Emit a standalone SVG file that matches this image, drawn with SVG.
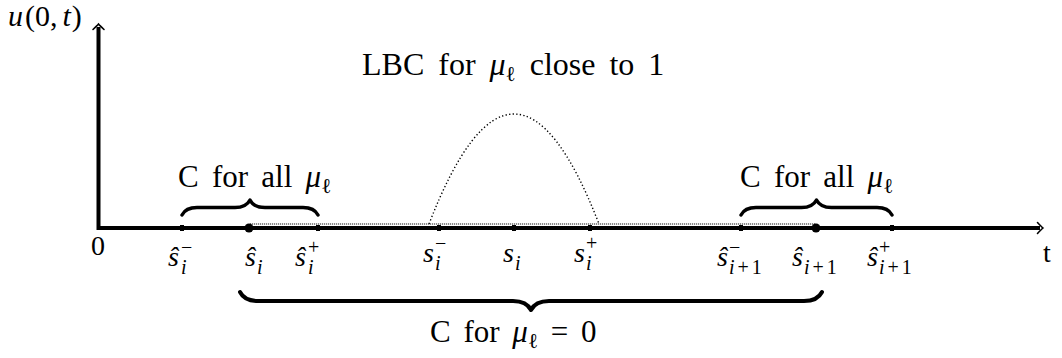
<svg xmlns="http://www.w3.org/2000/svg" width="1062" height="358" viewBox="0 0 1062 358">
  <style>
    text { fill: #000; }
    .t { font-size: 31px; }
    .m { font-size: 28px; font-style: italic; }
    .it { font-style: italic; }
    .up { font-style: normal; }
    .sc { font-size: 20px; }
    .sub { font-size: 21px; }
    .ax { fill: none; stroke: #000; stroke-width: 4; stroke-linejoin: miter; }
    .brace { fill: none; stroke: #000; stroke-width: 3.4; stroke-linecap: round; stroke-linejoin: round; }
    .tick { fill: #000; }
    .dotline { fill: none; stroke: #666; stroke-width: 1.6; stroke-dasharray: 1.2 0.8; }
    .curve { fill: none; stroke: #000; stroke-width: 1.4; stroke-dasharray: 1.3 2.3; }
  </style>
  <defs>
    <marker id="arr" markerUnits="userSpaceOnUse" markerWidth="14" markerHeight="14" refX="-3" refY="0" orient="auto-start-reverse" overflow="visible">
      <path d="M-5.5,-5.5 Q-1.5,-1.3 0,0 Q-1.5,1.3 -5.5,5.5" fill="none" stroke="#000" stroke-width="1.6" stroke-linecap="round"/>
    </marker>
  </defs>

  <g id="axes">
    <path class="ax" d="M98.5,27 V228 H1040" marker-start="url(#arr)" marker-end="url(#arr)"/>
  </g>

  <g id="curves">
    <line class="dotline" x1="250" y1="224" x2="816" y2="224"/>
    <path class="curve" d="M429,224 Q514,4 599,224"/>
  </g>

  <g id="ticks">
    <rect class="tick" x="180" y="225" width="4" height="6"/>
    <circle class="tick" cx="249" cy="228" r="4.5"/>
    <rect class="tick" x="316" y="225" width="4" height="6"/>
    <rect class="tick" x="437" y="225" width="4" height="6"/>
    <rect class="tick" x="512" y="225" width="4" height="6"/>
    <rect class="tick" x="588" y="225" width="4" height="6"/>
    <rect class="tick" x="739" y="225" width="4" height="6"/>
    <circle class="tick" cx="816" cy="228" r="4.5"/>
    <rect class="tick" x="890" y="225" width="4" height="6"/>
  </g>

  <g id="braces">
    <path id="brace-left" class="brace" d="M182,215 C184.25,210.5 189.5,207.5 197,207.5 L235,207.5 C242.5,207.5 247.75,204.5 250,200 C252.25,204.5 257.5,207.5 265,207.5 L303,207.5 C310.5,207.5 315.75,210.5 318,215"/>
    <path id="brace-right" class="brace" d="M741,215 C743.25,210.5 748.5,207.5 756,207.5 L801.5,207.5 C809,207.5 814.25,204.5 816.5,200 C818.75,204.5 824,207.5 831.5,207.5 L877,207.5 C884.5,207.5 889.75,210.5 892,215"/>
    <path id="brace-bottom" class="brace" style="stroke-width:4" d="M240,292 C242.7,297.4 249,301 258,301 L513,301 C522,301 528.3,304.6 531,310 C533.7,304.6 540,301 549,301 L804,301 C813,301 819.3,297.4 822,292"/>
  </g>

  <g id="axis-labels">
    <text id="ylabel" x="8" y="26" style="font-family:'Liberation Serif', serif; font-size:30px"><tspan class="it">u</tspan><tspan dx="2">(0,</tspan><tspan class="it" dx="5">t</tspan><tspan dx="1">)</tspan></text>
    <text id="origin" x="98" y="255" text-anchor="middle" style="font-family:'Liberation Serif', serif; font-size:28px">0</text>
    <text id="xlabel" x="1043" y="262" style="font-family:'Liberation Serif', serif; font-size:28px">t</text>
  </g>

  <g id="point-labels">
    <text id="lab-shat-i-minus" class="m" style="font-family:'Liberation Serif', serif"><tspan x="168" y="266">ŝ</tspan><tspan class="sc" x="181" y="274">i</tspan><tspan class="sc up" x="181" y="254">−</tspan></text>
    <text id="lab-shat-i" class="m" style="font-family:'Liberation Serif', serif"><tspan x="245" y="266">ŝ</tspan><tspan class="sc" x="257" y="274">i</tspan></text>
    <text id="lab-shat-i-plus" class="m" style="font-family:'Liberation Serif', serif"><tspan x="295" y="266">ŝ</tspan><tspan class="sc" x="308" y="274">i</tspan><tspan class="sc up" x="308" y="254">+</tspan></text>
    <text id="lab-s-i-minus" class="m" style="font-family:'Liberation Serif', serif"><tspan x="423" y="262">s</tspan><tspan class="sc" x="435" y="270">i</tspan><tspan class="sc up" x="435" y="250">−</tspan></text>
    <text id="lab-s-i" class="m" style="font-family:'Liberation Serif', serif"><tspan x="503" y="262">s</tspan><tspan class="sc" x="515" y="270">i</tspan></text>
    <text id="lab-s-i-plus" class="m" style="font-family:'Liberation Serif', serif"><tspan x="574" y="262">s</tspan><tspan class="sc" x="586" y="270">i</tspan><tspan class="sc up" x="586" y="250">+</tspan></text>
    <text id="lab-shat-i1-minus" class="m" style="font-family:'Liberation Serif', serif"><tspan x="717" y="266">ŝ</tspan><tspan class="sc" x="729" y="274">i</tspan><tspan class="sc up" dx="3">+</tspan><tspan class="sc up" dx="3">1</tspan><tspan class="sc up" x="729" y="254">−</tspan></text>
    <text id="lab-shat-i1" class="m" style="font-family:'Liberation Serif', serif"><tspan x="792" y="266">ŝ</tspan><tspan class="sc" x="804" y="274">i</tspan><tspan class="sc up" dx="3">+</tspan><tspan class="sc up" dx="3">1</tspan></text>
    <text id="lab-shat-i1-plus" class="m" style="font-family:'Liberation Serif', serif"><tspan x="867" y="266">ŝ</tspan><tspan class="sc" x="879" y="274">i</tspan><tspan class="sc up" dx="3">+</tspan><tspan class="sc up" dx="3">1</tspan><tspan class="sc up" x="879" y="254">+</tspan></text>
  </g>

  <g id="region-labels">
    <text id="lab-lbc" class="t" x="362" y="75" style="font-family:'Liberation Serif', serif; font-size:32px">LBC<tspan dx="6"> for</tspan><tspan class="it" dx="6"> μ</tspan><tspan class="sub" dy="6">ℓ</tspan><tspan dy="-6" dx="6"> close</tspan><tspan dx="6"> to</tspan><tspan dx="6"> 1</tspan></text>
    <text id="lab-call-left" class="t" x="178" y="187" style="font-family:'Liberation Serif', serif">C<tspan dx="5.5"> for</tspan><tspan dx="5.5"> all</tspan><tspan class="it" dx="5.5"> μ</tspan><tspan class="sub" dy="6">ℓ</tspan></text>
    <text id="lab-call-right" class="t" x="740" y="187" style="font-family:'Liberation Serif', serif">C<tspan dx="5.5"> for</tspan><tspan dx="5.5"> all</tspan><tspan class="it" dx="5.5"> μ</tspan><tspan class="sub" dy="6">ℓ</tspan></text>
    <text id="lab-c0" class="t" x="430" y="342" style="font-family:'Liberation Serif', serif">C<tspan dx="5"> for</tspan><tspan class="it" dx="5"> μ</tspan><tspan class="sub" dy="6">ℓ</tspan><tspan dy="-6" dx="5"> =</tspan><tspan dx="5"> 0</tspan></text>
  </g>
</svg>
